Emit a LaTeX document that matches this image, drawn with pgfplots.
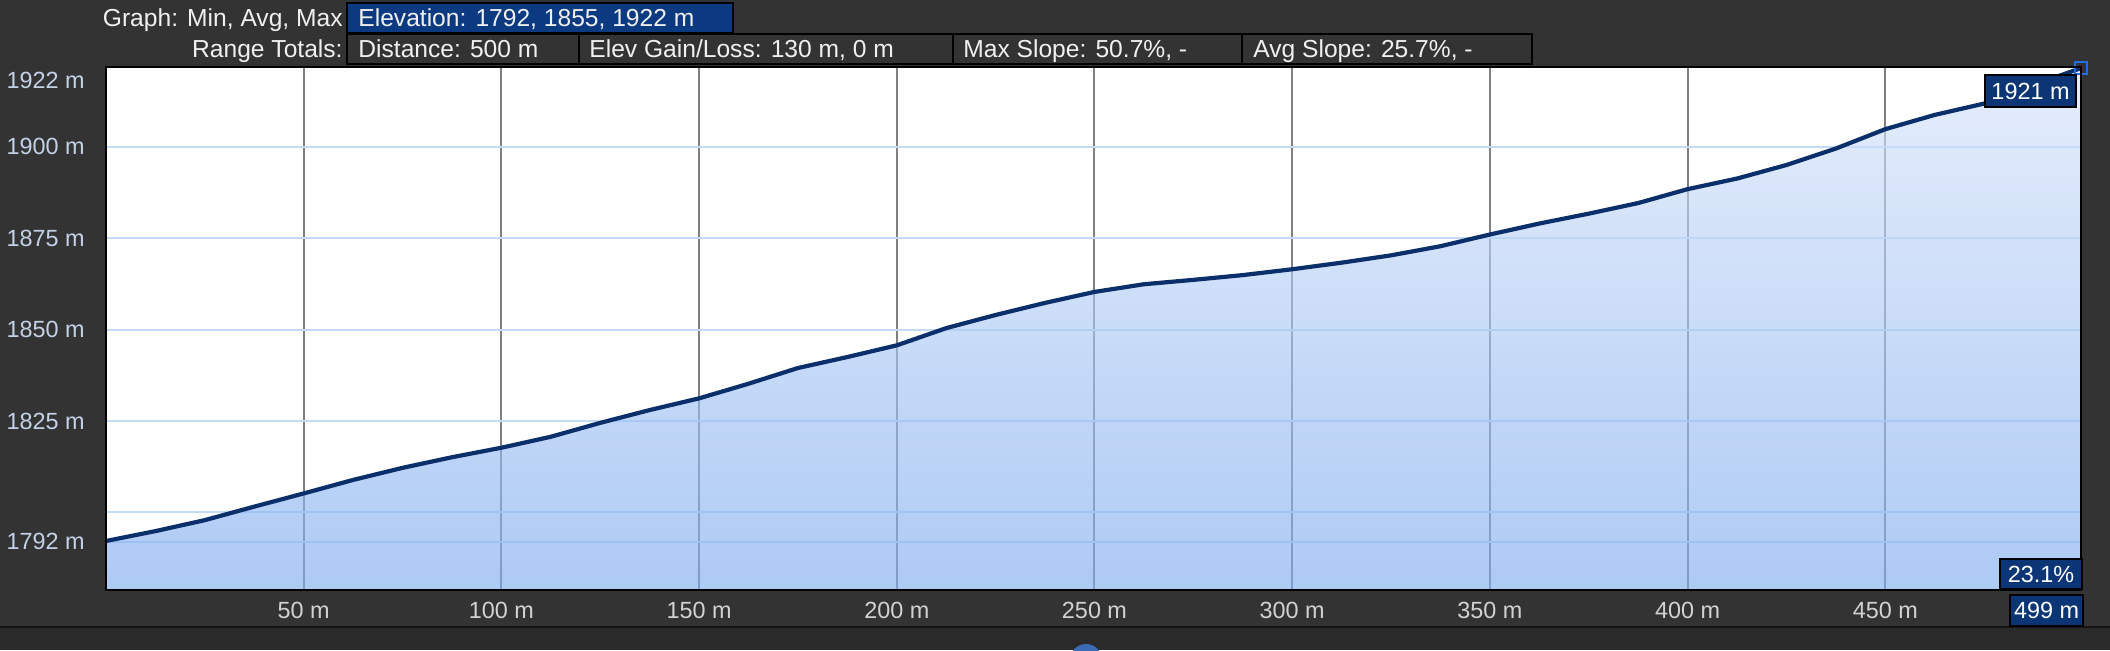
\documentclass[border=0pt]{standalone}
\usepackage{fontspec}
\setmainfont{Liberation Sans}
\usepackage{pgfplots}
\usepackage{pgfplotstable}
\pgfplotsset{compat=1.18}

\definecolor{bg}{HTML}{333333}
\definecolor{bgdark}{HTML}{2A2A2A}
\definecolor{hdrbox}{HTML}{0B3A80}
\definecolor{labelbox}{HTML}{0B3575}
\definecolor{curve}{HTML}{0B2F6B}
\definecolor{hgrid}{HTML}{C4DBF8}
\definecolor{vgrid}{HTML}{808080}
\definecolor{filltop}{rgb}{0.844,0.894,0.981}
\definecolor{fillbot}{rgb}{0.495,0.676,0.938}
\definecolor{ylab}{HTML}{C3D2E8}
\definecolor{xlab}{HTML}{D2D2D2}
\definecolor{hdrtext}{HTML}{F0F0F0}
\definecolor{marker}{HTML}{1F6FE8}
\definecolor{dome}{HTML}{3B6BB5}

\newcommand\hdr{\fontsize{12.3}{14}\selectfont}
\newcommand\lab{\fontsize{11.7}{14}\selectfont}

% distance (m) vs elevation (m)
\pgfplotstableread{
dist elev
0     1792.2
12.5  1794.9
25    1797.9
37.5  1801.6
50    1805.2
62.5  1808.9
75    1812.2
87.5  1815.1
100   1817.7
112.5 1820.7
125   1824.5
137.5 1828.0
150   1831.2
162.5 1835.2
175   1839.5
187.5 1842.5
200   1845.7
212.5 1850.4
225   1854.0
237.5 1857.3
250   1860.3
262.5 1862.4
275   1863.6
287.5 1864.9
300   1866.5
312.5 1868.3
325   1870.3
337.5 1872.8
350   1876.0
362.5 1879.0
375   1881.7
387.5 1884.6
400   1888.4
412.5 1891.3
425   1895.0
437.5 1899.5
450   1904.8
462.5 1908.7
475   1911.8
487.5 1916.9
499.5 1921.5
}\elevdata

\begin{document}
\begin{tikzpicture}
\useasboundingbox (0,0) rectangle (1055pt,325pt);
\clip (0,0) rectangle (1055pt,325pt);
\fill[bg] (0,0) rectangle (1055pt,325pt);
\fill[bgdark] (0,0) rectangle (1055pt,11.5pt);
\draw[black!60!bg, line width=0.8pt] (0,11.5pt) -- (1055pt,11.5pt);

\begin{axis}[
    at={(53pt,30pt)}, anchor=south west,
    scale only axis, width=987.5pt, height=261.5pt,
    xmin=0, xmax=499.5, ymin=1778.8, ymax=1921.8,
    axis background/.style={fill=white},
    axis line style={black, line width=1.25pt},
    clip mode=individual,
    major tick length=0pt, tick style={draw=none},
    xtick={50,100,150,200,250,300,350,400,450},
    xticklabels={50 m,100 m,150 m,200 m,250 m,300 m,350 m,400 m,450 m},
    ytick={1792,1800,1825,1850,1875,1900},
    yticklabels={1792 m,,1825 m,1850 m,1875 m,1900 m},
    extra y ticks={1921.8},
    extra y tick labels={1922 m},
    extra y tick style={grid=none, yticklabel style={yshift=-6.9pt}},
    tick label style={font=\lab},
    xticklabel style={text=xlab, anchor=north, inner sep=0pt, yshift=-6pt},
    yticklabel style={text=ylab, anchor=east, inner sep=0pt, xshift=-10.5pt},
    xmajorgrids, ymajorgrids,
    x grid style={vgrid, line width=1pt},
    y grid style={hgrid, line width=1pt},
]
% area under the profile
\addplot[draw=none, fill opacity=0.63, top color=filltop, bottom color=fillbot]
    table[x=dist, y=elev] {\elevdata}
    -- (axis cs:499.5,1778.8) -- (axis cs:0,1778.8) -- cycle;
% profile line
\addplot[curve, line width=2.1pt, line join=round] table[x=dist, y=elev] {\elevdata};
% cursor marker at the end point
\addplot[only marks, mark=square, mark size=3.2pt,
    mark options={draw=marker, line width=1pt, fill=none}] coordinates {(499.5,1921.5)};
\draw[black, line width=1.25pt] (rel axis cs:0,0) rectangle (rel axis cs:1,1);
\end{axis}

\begin{scope}[x=0.5pt, y=-0.5pt, shift={(0pt,325pt)}]
  % header row 1
  \node[anchor=base east, inner sep=0pt, font=\hdr, text=hdrtext] at (343,26.8) {Graph: Min, Avg, Max};
  \filldraw[fill=hdrbox, draw=black, line width=1pt] (347,3) rectangle (733,33);
  \node[anchor=base west, inner sep=0pt, font=\hdr, text=hdrtext] at (358,26.8) {Elevation: 1792, 1855, 1922 m};
  % header row 2
  \node[anchor=base east, inner sep=0pt, font=\hdr, text=hdrtext] at (343,57.8) {Range Totals:};
  \draw[black, line width=1pt] (347,34) rectangle (579,64);
  \draw[black, line width=1pt] (579,34) rectangle (953,64);
  \draw[black, line width=1pt] (953,34) rectangle (1242,64);
  \draw[black, line width=1pt] (1242,34) rectangle (1532,64);
  \node[anchor=base west, inner sep=0pt, font=\hdr, text=hdrtext] at (358,57.8) {Distance: 500 m};
  \node[anchor=base west, inner sep=0pt, font=\hdr, text=hdrtext] at (589,57.8) {Elev Gain/Loss: 130 m, 0 m};
  \node[anchor=base west, inner sep=0pt, font=\hdr, text=hdrtext] at (963,57.8) {Max Slope: 50.7\%, -};
  \node[anchor=base west, inner sep=0pt, font=\hdr, text=hdrtext] at (1253,57.8) {Avg Slope: 25.7\%, -};
  % value boxes on the plot
  \filldraw[fill=labelbox, draw=black, line width=1pt] (1985,75) rectangle (2076,107);
  \node[anchor=base, inner sep=0pt, font=\lab, text=white] at (2030.5,99.4) {1921 m};
  \filldraw[fill=labelbox, draw=black, line width=1pt] (2000,559) rectangle (2082,589);
  \node[anchor=base, inner sep=0pt, font=\lab, text=white] at (2041,582.4) {23.1\%};
  \filldraw[fill=labelbox, draw=black, line width=1pt] (2010,595) rectangle (2083,626);
  \node[anchor=base, inner sep=0pt, font=\lab, text=white] at (2046.5,618.9) {499 m};
  % scroll handle at the bottom
  \fill[dome] (1086,660) circle (16);
\end{scope}
\end{tikzpicture}
\end{document}
